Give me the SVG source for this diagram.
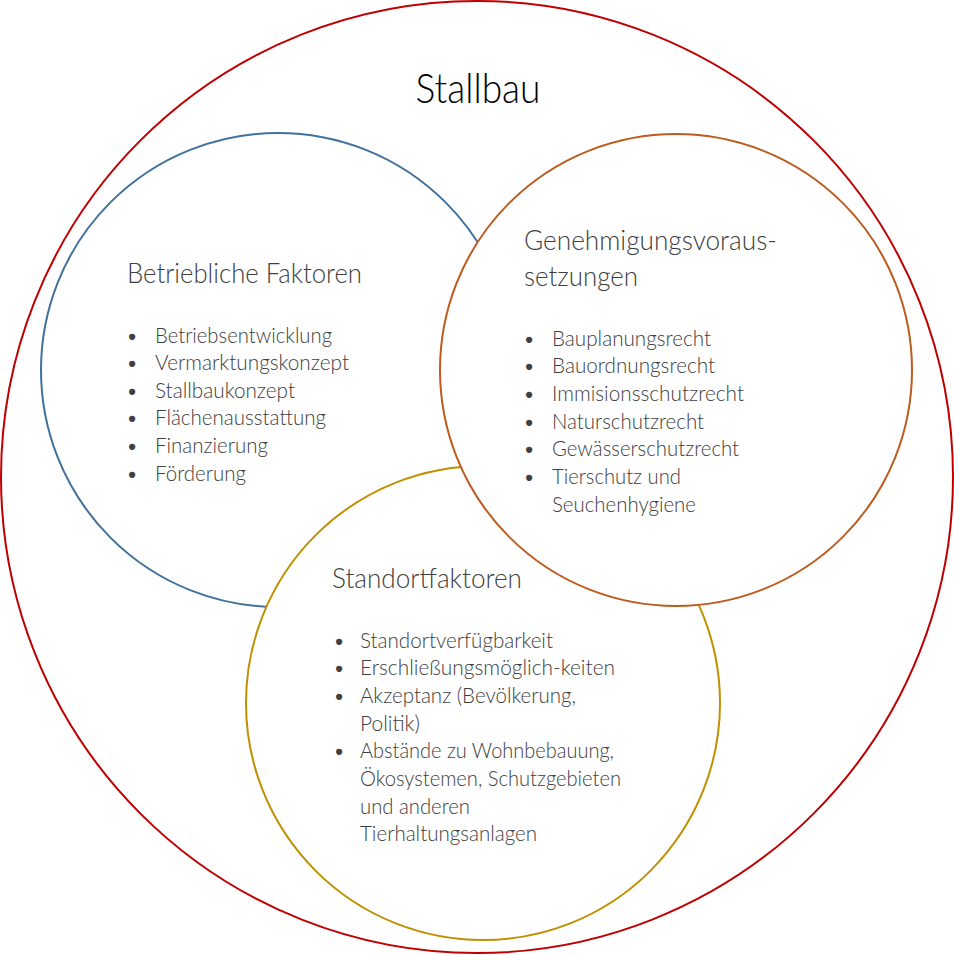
<svg xmlns="http://www.w3.org/2000/svg" width="954" height="955" viewBox="0 0 954 955">
<style>
text{font-family:Lato,"Open Sans","Liberation Sans",sans-serif;font-weight:300;fill:#404040}
.h{font-size:27px}
.t{font-size:21px}
.c{fill:#fff;stroke-width:2}
</style>
<rect width="954" height="955" fill="#fff"/>
<g id="stallbau">
<circle cx="477" cy="477" r="476" fill="#fff" stroke="#C00000" stroke-width="2"/>
<text x="478" y="103" font-size="41" text-anchor="middle" textLength="125" lengthAdjust="spacingAndGlyphs" style="fill:#000">Stallbau</text>
</g>
<g id="betriebliche">
<circle class="c" cx="278" cy="370" r="237" stroke="#41719C"/>
<text class="h" x="127" y="283" textLength="235" lengthAdjust="spacingAndGlyphs">Betriebliche Faktoren</text>
<g class="t">
<text x="126" y="342.5">•</text><text x="155" y="342.5" textLength="177" lengthAdjust="spacingAndGlyphs">Betriebsentwicklung</text>
<text x="126" y="370.1">•</text><text x="155" y="370.1" textLength="194" lengthAdjust="spacingAndGlyphs">Vermarktungskonzept</text>
<text x="126" y="397.7">•</text><text x="155" y="397.7" textLength="140" lengthAdjust="spacingAndGlyphs">Stallbaukonzept</text>
<text x="126" y="425.3">•</text><text x="155" y="425.3" textLength="171" lengthAdjust="spacingAndGlyphs">Flächenausstattung</text>
<text x="126" y="452.9">•</text><text x="155" y="452.9" textLength="113" lengthAdjust="spacingAndGlyphs">Finanzierung</text>
<text x="126" y="480.5">•</text><text x="155" y="480.5" textLength="91" lengthAdjust="spacingAndGlyphs">Förderung</text>
</g>
</g>
<g id="standort">
<circle class="c" cx="483" cy="703" r="237" stroke="#BF9000"/>
<text class="h" x="332" y="588" textLength="190" lengthAdjust="spacingAndGlyphs">Standortfaktoren</text>
<g class="t">
<text x="333" y="647.5">•</text><text x="360" y="647.5" textLength="193" lengthAdjust="spacingAndGlyphs">Standortverfügbarkeit</text>
<text x="333" y="675.2">•</text><text x="360" y="675.2" textLength="255" lengthAdjust="spacingAndGlyphs">Erschließungsmöglich-keiten</text>
<text x="333" y="702.9">•</text><text x="360" y="702.9" textLength="216" lengthAdjust="spacingAndGlyphs">Akzeptanz (Bevölkerung,</text>
<text x="360" y="730.6" textLength="60" lengthAdjust="spacingAndGlyphs">Politik)</text>
<text x="333" y="758.3">•</text><text x="360" y="758.3" textLength="254" lengthAdjust="spacingAndGlyphs">Abstände zu Wohnbebauung,</text>
<text x="360" y="786" textLength="261" lengthAdjust="spacingAndGlyphs">Ökosystemen, Schutzgebieten</text>
<text x="360" y="813.7" textLength="110" lengthAdjust="spacingAndGlyphs">und anderen</text>
<text x="360" y="841.4" textLength="177" lengthAdjust="spacingAndGlyphs">Tierhaltungsanlagen</text>
</g>
</g>
<g id="genehmigung">
<circle class="c" cx="676" cy="370" r="236" stroke="#BE5B1E"/>
<text class="h" x="524" y="250" textLength="253" lengthAdjust="spacingAndGlyphs">Genehmigungsvoraus-</text>
<text class="h" x="524" y="286" textLength="114" lengthAdjust="spacingAndGlyphs">setzungen</text>
<g class="t">
<text x="523" y="345.5">•</text><text x="552" y="345.5" textLength="159" lengthAdjust="spacingAndGlyphs">Bauplanungsrecht</text>
<text x="523" y="373.2">•</text><text x="552" y="373.2" textLength="163" lengthAdjust="spacingAndGlyphs">Bauordnungsrecht</text>
<text x="523" y="400.9">•</text><text x="552" y="400.9" textLength="192" lengthAdjust="spacingAndGlyphs">Immisionsschutzrecht</text>
<text x="523" y="428.6">•</text><text x="552" y="428.6" textLength="152" lengthAdjust="spacingAndGlyphs">Naturschutzrecht</text>
<text x="523" y="456.3">•</text><text x="552" y="456.3" textLength="187" lengthAdjust="spacingAndGlyphs">Gewässerschutzrecht</text>
<text x="523" y="484">•</text><text x="552" y="484" textLength="129" lengthAdjust="spacingAndGlyphs">Tierschutz und</text>
<text x="552" y="511.7" textLength="144" lengthAdjust="spacingAndGlyphs">Seuchenhygiene</text>
</g>
</g>
<g id="connectors"/>
</svg>
